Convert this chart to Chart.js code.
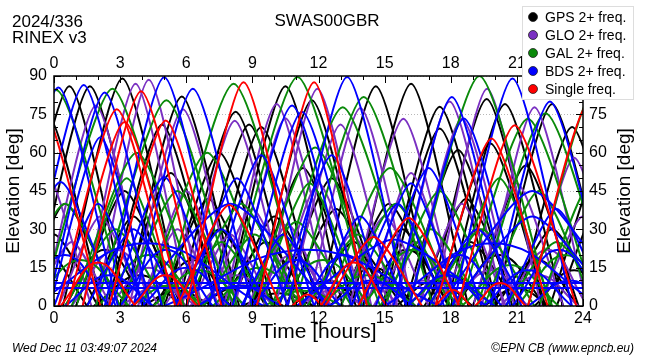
<!DOCTYPE html>
<html>
<head>
<meta charset="utf-8">
<script src="https://cdn.jsdelivr.net/npm/chart.js@4.4.1/dist/chart.umd.min.js"></script>
<style>
  body { margin: 0; background: #fff; }
  canvas { display: block; }
</style>
</head>
<body>
<canvas id="grafico" width="650" height="360"></canvas>
<script>
// legend labels
const constellations = ['GPS 2+ freq.', 'GLO 2+ freq.', 'GAL 2+ freq.', 'BDS 2+ freq.', 'Single freq.'];
const colors = ['#000000', '#7a30c2', '#0a8a0a', '#0000ff', '#ff0000'];

const hourTicks = [0, 3, 6, 9, 12, 15, 18, 21, 24];
const elevTicks = [0, 15, 30, 45, 60, 75, 90];

// passes: [rise (h), peak time (h), peak elevation (deg), set (h)]
const gpsPasses = [
  [-2.0, 0.7, 86, 3.3], [-1.0, 1.63, 86, 4.3], [0.4, 3.1, 89, 5.8], [2.4, 4.9, 71, 7.4],
  [3.2, 5.8, 82, 8.4], [5.0, 7.5, 60, 10.0], [5.6, 8.24, 76, 10.9], [6.3, 8.85, 71, 11.4],
  [7.0, 9.4, 70, 12.0], [7.8, 10.5, 86, 13.1], [9.1, 11.7, 80.5, 14.3], [12.0, 14.6, 86, 17.2],
  [13.5, 16.2, 87, 18.8], [14.9, 17.5, 78, 20.1], [15.0, 17.5, 69.5, 20.0], [15.9, 18.33, 61, 20.8],
  [17.0, 19.63, 81, 22.2], [17.3, 19.8, 63.6, 22.3], [17.8, 20.46, 79, 23.1], [20.0, 22.6, 79, 25.2],
  [-1.5, 0.5, 40, 3.0], [-2.5, -0.3, 75, 2.2], [-3.0, -1.0, 30, 1.5], [0.5, 2.3, 22, 4.2],
  [1.0, 3.2, 45, 5.6], [1.8, 3.9, 12, 5.8], [3.0, 5.3, 52, 7.7], [4.5, 6.3, 18, 8.0],
  [5.5, 7.5, 30, 9.6], [6.5, 8.6, 8, 10.4], [8.0, 10.0, 35, 12.3], [9.0, 11.3, 54, 13.7],
  [10.2, 12.6, 50, 15.0], [10.8, 12.4, 10, 14.0], [11.5, 13.6, 25, 15.8], [12.5, 14.5, 15, 16.4],
  [13.0, 15.2, 40, 17.5], [14.0, 16.0, 22, 18.0], [15.5, 17.3, 10, 19.0], [16.5, 18.7, 42, 21.0],
  [18.2, 20.2, 20, 22.3], [19.0, 21.4, 55, 23.8], [20.5, 22.6, 30, 24.8], [21.0, 23.5, 70, 26.0],
  [21.8, 23.6, 14, 25.5], [22.5, 25.0, 60, 27.5], [22.8, 24.8, 40, 27.0], [4.0, 5.6, 6, 7.2],
  [8.5, 10.2, 5, 11.8], [19.5, 21.0, 7, 22.5],
  [1.5, 3.6, 35, 5.8], [4.8, 7.0, 42, 9.3], [7.5, 9.6, 25, 11.7], [10.5, 12.8, 38, 15.1],
  [13.8, 15.8, 30, 17.9], [16.8, 18.9, 25, 21.0], [20.0, 21.9, 18, 23.8], [-2.0, 0.0, 28, 2.0]
];
const gloPasses = [
  [-0.5, 1.9, 78.5, 4.3], [1.3, 3.7, 87, 6.1], [1.9, 4.3, 88.5, 6.7], [3.4, 5.85, 77, 8.3],
  [5.8, 8.2, 72.5, 10.6], [7.7, 10.1, 79, 12.5], [8.2, 10.5, 73.5, 12.9], [9.5, 11.95, 85, 14.4],
  [10.6, 13.0, 71, 15.4], [11.5, 13.9, 77.5, 16.3], [13.4, 15.85, 73.3, 18.3], [15.5, 17.95, 80, 20.4],
  [16.1, 18.5, 73.3, 20.9], [17.2, 19.65, 85, 22.1], [19.4, 21.8, 77.8, 24.2],
  [-2.5, -0.5, 55, 1.7], [-1.0, 0.8, 25, 2.6], [0.2, 2.1, 35, 4.1], [2.5, 4.3, 15, 6.0],
  [4.0, 6.0, 45, 8.1], [5.0, 6.8, 20, 8.6], [6.5, 8.3, 12, 10.0], [7.0, 9.0, 38, 11.0],
  [9.0, 10.8, 20, 12.6], [10.0, 12.0, 48, 14.1], [12.0, 13.8, 18, 15.6], [13.0, 15.0, 35, 17.0],
  [14.2, 16.2, 52, 18.3], [15.0, 16.8, 10, 18.5], [16.5, 18.5, 40, 20.5], [18.0, 19.8, 14, 21.5],
  [19.0, 21.0, 48, 23.1], [20.5, 22.4, 22, 24.2], [21.5, 23.6, 58, 25.8], [22.0, 24.0, 35, 26.0],
  [3.0, 4.8, 8, 6.5], [11.0, 12.6, 6, 14.1],
  [0.8, 2.8, 22, 4.8], [3.8, 5.6, 30, 7.5], [6.2, 8.0, 28, 9.9], [8.8, 10.6, 32, 12.4],
  [11.8, 13.5, 28, 15.3], [14.5, 16.4, 25, 18.2], [17.5, 19.3, 30, 21.2], [20.2, 22.0, 12, 23.8]
];
const galPasses = [
  [-3.0, 0.1, 84.5, 3.3], [-0.6, 2.65, 85, 5.9], [1.9, 5.1, 80.5, 8.3], [0.8, 3.75, 60, 6.7],
  [4.0, 6.95, 60, 9.9], [4.9, 8.15, 87, 11.4], [7.8, 11.05, 89.6, 14.3], [8.9, 11.85, 62, 14.8],
  [9.9, 13.1, 77.8, 16.3], [10.9, 14.05, 81.8, 17.2], [12.3, 15.25, 54, 18.2], [16.1, 19.3, 90, 22.5],
  [18.4, 21.5, 73.3, 24.6], [19.2, 22.3, 75.4, 25.4], [21.5, 24.6, 86, 27.7],
  [-2.0, 0.5, 40, 3.0], [-1.0, 1.2, 18, 3.4], [0.5, 2.8, 30, 5.1], [2.0, 4.3, 20, 6.6],
  [3.0, 5.6, 45, 8.2], [5.5, 7.6, 25, 9.7], [6.0, 8.5, 40, 11.0], [7.2, 9.3, 15, 11.4],
  [8.5, 11.0, 33, 13.5], [10.0, 12.2, 18, 14.4], [11.5, 13.8, 28, 16.1], [13.0, 15.5, 40, 18.0],
  [14.0, 16.3, 22, 18.6], [15.0, 17.5, 45, 20.0], [16.0, 18.0, 12, 20.0], [17.0, 19.4, 30, 21.8],
  [18.5, 20.7, 16, 22.9], [19.5, 22.0, 45, 24.5], [20.5, 22.8, 25, 25.1], [22.0, 24.5, 50, 27.0],
  [9.5, 11.3, 6, 13.1], [3.5, 5.2, 8, 6.9],
  [1.0, 3.3, 50, 5.6], [4.5, 6.6, 14, 8.7], [6.8, 9.1, 28, 11.4], [9.2, 11.6, 48, 14.0],
  [12.0, 14.2, 12, 16.4], [14.8, 17.1, 30, 19.4], [17.8, 20.2, 50, 22.6], [21.0, 23.2, 20, 25.4]
];
const bdsPasses = [
  [-2.5, 0.2, 85.5, 2.9], [-1.3, 1.35, 86.5, 4.0], [-0.3, 2.3, 83.5, 4.9], [-0.2, 2.1, 66, 4.4],
  [2.3, 5.0, 89.5, 7.7], [3.6, 6.3, 85, 9.0], [7.0, 9.4, 59, 11.8], [8.1, 10.8, 78.5, 13.5],
  [8.6, 11.25, 76, 13.9], [10.6, 13.3, 89.6, 16.0], [15.4, 18.05, 81.8, 20.7], [16.1, 18.6, 73.4, 21.2],
  [18.1, 20.8, 89, 23.5], [10.2, 12.6, 59, 15.0], [14.6, 17.0, 54, 19.4], [-2.2, 0.3, 48.5, 2.8],
  [2.6, 5.0, 50.5, 7.4], [19.8, 22.5, 80, 25.2],
  [-1.0, 4.2, 24.6, 9.5], [5.0, 11.5, 22, 17.5], [3.5, 8.0, 40, 12.5], [11.0, 15.4, 26, 20.0],
  [15.0, 19.9, 24.6, 24.8], [17.5, 21.7, 45, 26.0], [18.0, 21.7, 35, 25.5],
  [-1.5, 0.5, 20, 2.5], [0.5, 2.5, 12, 4.5], [1.5, 3.6, 30, 5.7], [4.0, 6.0, 15, 8.0],
  [5.5, 7.6, 30, 9.7], [6.5, 8.4, 8, 10.3], [9.0, 11.0, 18, 13.0], [11.8, 13.9, 35, 16.0],
  [12.5, 14.4, 10, 16.3], [13.5, 15.6, 40, 17.7], [16.0, 17.8, 12, 19.6], [17.0, 19.2, 30, 21.4],
  [19.5, 21.5, 14, 23.5], [20.5, 22.8, 38, 25.1], [21.5, 23.4, 10, 25.3],
  [0.0, 2.0, 40, 4.1], [3.0, 5.1, 22, 7.2], [6.0, 8.3, 50, 10.6], [8.5, 10.4, 28, 12.3],
  [11.2, 13.2, 20, 15.2], [14.0, 16.2, 48, 18.4], [16.5, 18.4, 20, 20.3], [20.8, 22.9, 22, 25.0]
];
// geostationary BDS: constant elevation (deg)
const bdsGeoElev = [9, 7];
const singlePasses = [
  [-2.5, -0.6, 80, 2.1], [0.2, 2.85, 77, 5.5], [0.6, 3.2, 72, 5.8], [1.3, 3.95, 84, 6.6],
  [2.5, 5.07, 72.6, 7.6], [6.0, 8.6, 87.6, 11.2], [9.2, 11.8, 87.6, 14.2], [17.3, 19.85, 65.5, 22.4],
  [18.3, 20.9, 70.7, 23.7], [0.3, 2.0, 17, 3.7], [3.6, 5.05, 12, 6.5], [5.6, 7.95, 39.5, 10.3],
  [12.3, 14.5, 27, 16.7], [12.1, 13.6, 17, 15.1], [10.8, 11.5, 4.5, 12.2], [13.8, 16.1, 34.4, 18.4],
  [17.3, 18.1, 6.3, 18.9], [19.1, 20.25, 9, 21.4], [21.5, 24.3, 80, 27.0]
];

const fonte = '"Liberation Sans", Arial, sans-serif';

function passDataset(p, cor, ordem) {
  return {
    data: [{x: p[0], y: 0}, {x: p[1], y: p[2]}, {x: p[3], y: 0}],
    showLine: true,
    borderColor: cor,
    borderWidth: 2,
    pointRadius: 0,
    tension: p[2] >= 25 ? 0.22 : 0.42,
    order: ordem
  };
}

const datasets = [];
const grupos = [gpsPasses, gloPasses, galPasses, bdsPasses, singlePasses];
grupos.forEach((lista, i) => {
  lista.forEach(p => datasets.push(passDataset(p, colors[i], 10 - i)));
});
bdsGeoElev.forEach(e => {
  datasets.push({
    data: [{x: 0, y: e}, {x: 24, y: e}],
    showLine: true, borderColor: colors[3], borderWidth: 2, pointRadius: 0, order: 7
  });
});

// frame, inward ticks, texts and legend
const decoracao = {
  id: 'decoracao',
  afterDraw(chart) {
    const {ctx, chartArea: a, scales} = chart;
    ctx.save();
    ctx.strokeStyle = '#000';
    ctx.lineWidth = 1;
    for (let h = 0; h <= 24; h++) {
      const x = Math.round(scales.x.getPixelForValue(h)) + 0.5;
      const len = h % 3 ? 4 : 7;
      ctx.beginPath();
      ctx.moveTo(x, a.top); ctx.lineTo(x, a.top + len);
      ctx.moveTo(x, a.bottom); ctx.lineTo(x, a.bottom - len);
      ctx.stroke();
    }
    for (let e = 0; e <= 90; e += 5) {
      const y = Math.round(scales.y.getPixelForValue(e)) + 0.5;
      const len = e % 15 ? 4 : 7;
      ctx.beginPath();
      ctx.moveTo(a.left, y); ctx.lineTo(a.left + len, y);
      ctx.moveTo(a.right, y); ctx.lineTo(a.right - len, y);
      ctx.stroke();
    }
    ctx.lineWidth = 1.5;
    ctx.strokeRect(a.left, a.top, a.right - a.left, a.bottom - a.top);

    ctx.fillStyle = '#000';
    ctx.textBaseline = 'alphabetic';
    ctx.font = '17px ' + fonte;
    ctx.textAlign = 'left';
    ctx.fillText('2024/336', 12, 27);
    ctx.fillText('RINEX v3', 12, 43);
    ctx.textAlign = 'center';
    ctx.fillText('SWAS00GBR', 327, 26);

    ctx.font = '21px ' + fonte;
    ctx.fillText('Time [hours]', (a.left + a.right) / 2, 338);
    ctx.font = '19px ' + fonte;
    ctx.textBaseline = 'middle';
    [14, 625].forEach(x => {
      ctx.save();
      ctx.translate(x, (a.top + a.bottom) / 2);
      ctx.rotate(-Math.PI / 2);
      ctx.fillText('Elevation [deg]', 0, 0);
      ctx.restore();
    });

    ctx.font = 'italic 12px ' + fonte;
    ctx.textBaseline = 'alphabetic';
    ctx.textAlign = 'left';
    ctx.fillText('Wed Dec 11 03:49:07 2024', 12, 352);
    ctx.textAlign = 'right';
    ctx.fillText('\u00a9EPN CB (www.epncb.eu)', 634, 352);

    // legend box
    ctx.fillStyle = '#fff';
    ctx.fillRect(522, 6, 112, 94);
    ctx.strokeStyle = '#dddddd';
    ctx.lineWidth = 1;
    ctx.strokeRect(522.5, 6.5, 111, 93);
    ctx.font = '14px ' + fonte;
    ctx.textAlign = 'left';
    ctx.textBaseline = 'middle';
    constellations.forEach((nome, i) => {
      const y = 17 + i * 18;
      ctx.beginPath();
      ctx.arc(533, y, 4.5, 0, Math.PI * 2);
      ctx.fillStyle = colors[i];
      ctx.fill();
      ctx.strokeStyle = '#222';
      ctx.lineWidth = 0.8;
      ctx.stroke();
      ctx.fillStyle = '#000';
      ctx.fillText(nome, 545, y + 1);
    });
    ctx.restore();
  }
};

const tickFont = {size: 16, family: fonte};

const ctx = document.getElementById('grafico').getContext('2d');
new Chart(ctx, {
  type: 'scatter',
  data: { datasets },
  options: {
    responsive: false,
    animation: false,
    events: [],
    layout: { padding: 0 },
    plugins: { legend: { display: false }, tooltip: { enabled: false } },
    scales: {
      x: {
        type: 'linear', position: 'bottom', min: 0, max: 24,
        afterBuildTicks: s => { s.ticks = hourTicks.map(v => ({value: v})); },
        ticks: { color: '#000', font: tickFont, padding: 3, maxRotation: 0, autoSkip: false },
        grid: { display: false, drawTicks: false },
        border: { display: false },
        afterFit: s => { s.height = 54; }
      },
      xTop: {
        type: 'linear', position: 'top', min: 0, max: 24,
        afterBuildTicks: s => { s.ticks = hourTicks.map(v => ({value: v})); },
        ticks: { color: '#000', font: tickFont, padding: 3, maxRotation: 0, autoSkip: false },
        grid: { display: false, drawTicks: false },
        border: { display: false },
        afterFit: s => { s.height = 76; }
      },
      y: {
        position: 'left', min: 0, max: 90,
        afterBuildTicks: s => { s.ticks = elevTicks.map(v => ({value: v})); },
        ticks: { color: '#000', font: tickFont, padding: 7 },
        grid: { color: '#b8b8b8', lineWidth: 1, drawTicks: false },
        border: { display: false, dash: [1, 2] },
        afterFit: s => { s.width = 54; }
      },
      yRight: {
        position: 'right', min: 0, max: 90,
        afterBuildTicks: s => { s.ticks = elevTicks.map(v => ({value: v})); },
        ticks: { color: '#000', font: tickFont, padding: 6 },
        grid: { display: false, drawTicks: false },
        border: { display: false },
        afterFit: s => { s.width = 67; }
      }
    }
  },
  plugins: [decoracao]
});
</script>
</body>
</html>
